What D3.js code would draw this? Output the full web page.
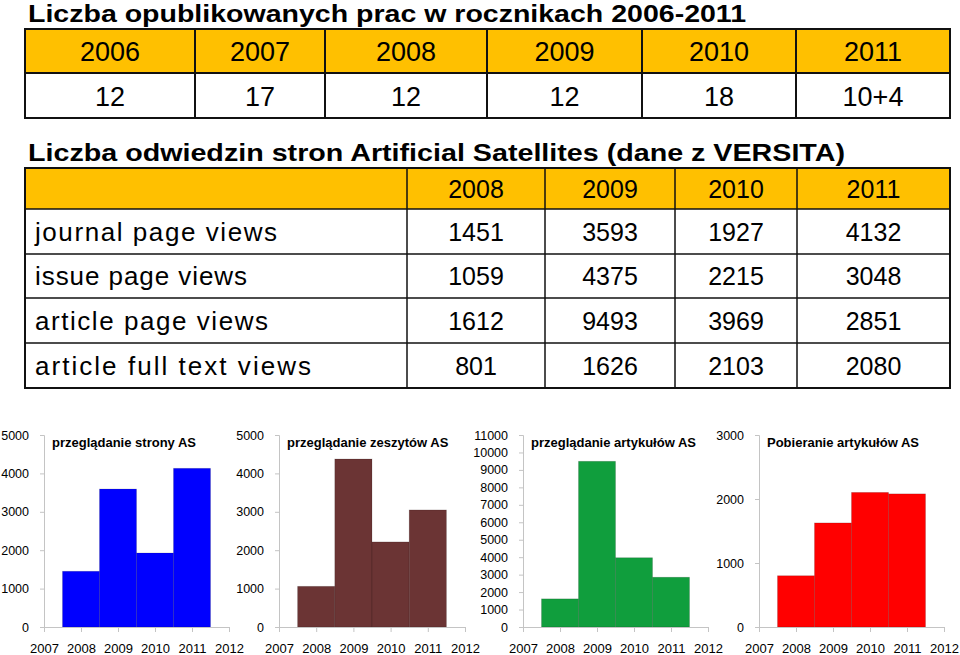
<!DOCTYPE html>
<html><head><meta charset="utf-8">
<script src="https://cdn.jsdelivr.net/npm/d3@7/dist/d3.min.js"></script>
<style>
html,body{margin:0;padding:0;background:#fff;}
svg{display:block;font-family:Arial,"Liberation Sans",sans-serif;}
</style></head>
<body>
<svg id="c" width="960" height="655"></svg>
<script>
// ---- data ----
const title1 = "Liczba opublikowanych prac w rocznikach 2006-2011";
const pubYears = ["2006","2007","2008","2009","2010","2011"];
const pubCounts = ["12","17","12","12","18","10+4"];

const title2 = "Liczba odwiedzin stron Artificial Satellites (dane z VERSITA)";
const visitYears = [2008, 2009, 2010, 2011];
const rowLabels = ["journal page views","issue page views","article page views","article full text views"];
const journalViews = [1451, 3593, 1927, 4132];
const issueViews = [1059, 4375, 2215, 3048];
const articleViews = [1612, 9493, 3969, 2851];
const fullTextViews = [801, 1626, 2103, 2080];

const chartTitles = ["przeglądanie strony AS","przeglądanie zeszytów AS","przeglądanie artykułów AS","Pobieranie artykułów AS"];
const chartMax = [5000, 5000, 11000, 3000];
const xTickYears = [2007, 2008, 2009, 2010, 2011, 2012];

// ---- layout constants ----
const svg = d3.select("#c");
const orange = "#ffc000";
const labelWidths = [242, 212, 233, 276];

// Title 1
svg.append("text").attr("x",28).attr("y",22).attr("font-size",24).attr("font-weight","bold")
  .attr("textLength",718).attr("lengthAdjust","spacingAndGlyphs").text(title1);

// Table 1
const t1Cols = [25,195,325,487,642,796,950];
const t1Rows = [29,73,118];
const t1 = svg.append("g");
pubYears.forEach((y,i)=>{
  const x0=t1Cols[i], x1=t1Cols[i+1];
  t1.append("rect").attr("x",x0).attr("y",t1Rows[0]).attr("width",x1-x0).attr("height",t1Rows[1]-t1Rows[0]).attr("fill",orange);
  t1.append("text").attr("x",(x0+x1)/2).attr("y",(t1Rows[0]+t1Rows[1])/2+10).attr("text-anchor","middle").attr("font-size",27).text(y);
  t1.append("text").attr("x",(x0+x1)/2).attr("y",(t1Rows[1]+t1Rows[2])/2+10).attr("text-anchor","middle").attr("font-size",27).text(pubCounts[i]);
});
t1Cols.forEach(x=>t1.append("line").attr("x1",x).attr("x2",x).attr("y1",t1Rows[0]).attr("y2",t1Rows[2]).attr("stroke","#111").attr("stroke-width",2));
t1Rows.forEach(y=>t1.append("line").attr("x1",t1Cols[0]-1).attr("x2",t1Cols[6]+1).attr("y1",y).attr("y2",y).attr("stroke","#111").attr("stroke-width",2));

// Title 2
svg.append("text").attr("x",28).attr("y",161).attr("font-size",24).attr("font-weight","bold")
  .attr("textLength",817).attr("lengthAdjust","spacingAndGlyphs").text(title2);

// Table 2
const t2Cols = [25,407,545,675,797,950];
const t2Rows = [168,209,254,298,343,388];
const t2 = svg.append("g");
t2.append("rect").attr("x",t2Cols[0]).attr("y",t2Rows[0]).attr("width",t2Cols[5]-t2Cols[0]).attr("height",t2Rows[1]-t2Rows[0]).attr("fill",orange);
visitYears.forEach((y,i)=>{
  t2.append("text").attr("x",(t2Cols[i+1]+t2Cols[i+2])/2).attr("y",(t2Rows[0]+t2Rows[1])/2+9).attr("text-anchor","middle").attr("font-size",25).text(y);
});
const t2Data = [journalViews, issueViews, articleViews, fullTextViews];
t2Data.forEach((vals,r)=>{
  const yc=(t2Rows[r+1]+t2Rows[r+2])/2;
  t2.append("text").attr("x",35).attr("y",yc+9).attr("font-size",26)
    .attr("textLength",labelWidths[r]).attr("lengthAdjust","spacing").text(rowLabels[r]);
  vals.forEach((v,i)=>{
    t2.append("text").attr("x",(t2Cols[i+1]+t2Cols[i+2])/2).attr("y",yc+9).attr("text-anchor","middle").attr("font-size",25).text(v);
  });
});
t2Cols.forEach((x,i)=>t2.append("line").attr("x1",x).attr("x2",x).attr("y1",t2Rows[0]).attr("y2",t2Rows[5]).attr("stroke","#111").attr("stroke-width",(i===0||i===5)?2:1.5));
t2Rows.forEach((y,i)=>t2.append("line").attr("x1",t2Cols[0]-1).attr("x2",t2Cols[5]+1).attr("y1",y).attr("y2",y).attr("stroke","#111").attr("stroke-width",(i===0||i===5)?2:1.5));

// Charts
const panelX = [[44,229],[279,465],[523,708],[759,944]];
const colors = ["#0000ff","#6b3434","#109e3d","#ff0000"];
const yBottom = 627, yTop = 435;
const axisCol = "#c4c4c4";

t2Data.forEach((vals,p)=>{
  const g = svg.append("g");
  const x = d3.scaleLinear().domain([2007,2012]).range(panelX[p]);
  const y = d3.scaleLinear().domain([0,chartMax[p]]).range([yBottom,yTop]);
  const ticks = d3.range(0, chartMax[p]+1, 1000);
  g.selectAll("rect.bar").data(vals).join("rect")
    .attr("x",(d,i)=>x(visitYears[i]-0.5))
    .attr("width",(d,i)=>x(visitYears[i]+0.5)-x(visitYears[i]-0.5))
    .attr("y",d=>y(d))
    .attr("height",d=>yBottom-y(d))
    .attr("fill",colors[p])
    .attr("stroke","rgba(0,0,0,0.18)").attr("stroke-width",0.8);
  const ya = g.append("g").attr("transform",`translate(${panelX[p][0]},0)`)
    .call(d3.axisLeft(y).tickValues(ticks).tickSize(4).tickPadding(11).tickFormat(d3.format("d")));
  ya.select(".domain").attr("stroke",axisCol);
  ya.selectAll(".tick line").attr("stroke",axisCol);
  ya.selectAll("text").attr("font-size",12.5).attr("font-family","Arial,'Liberation Sans',sans-serif").attr("fill","#000");
  const xa = g.append("g").attr("transform",`translate(0,${yBottom})`)
    .call(d3.axisBottom(x).tickValues(xTickYears).tickSize(5).tickSizeOuter(0).tickPadding(12).tickFormat(d3.format("d")));
  xa.select(".domain").attr("stroke",axisCol);
  xa.selectAll(".tick line").attr("stroke",axisCol);
  xa.selectAll("text").attr("font-size",13).attr("font-family","Arial,'Liberation Sans',sans-serif").attr("fill","#000");
  g.append("text").attr("x",panelX[p][0]+8).attr("y",447).attr("font-size",13).attr("font-weight","bold").text(chartTitles[p]);
});
</script>
</body></html>
